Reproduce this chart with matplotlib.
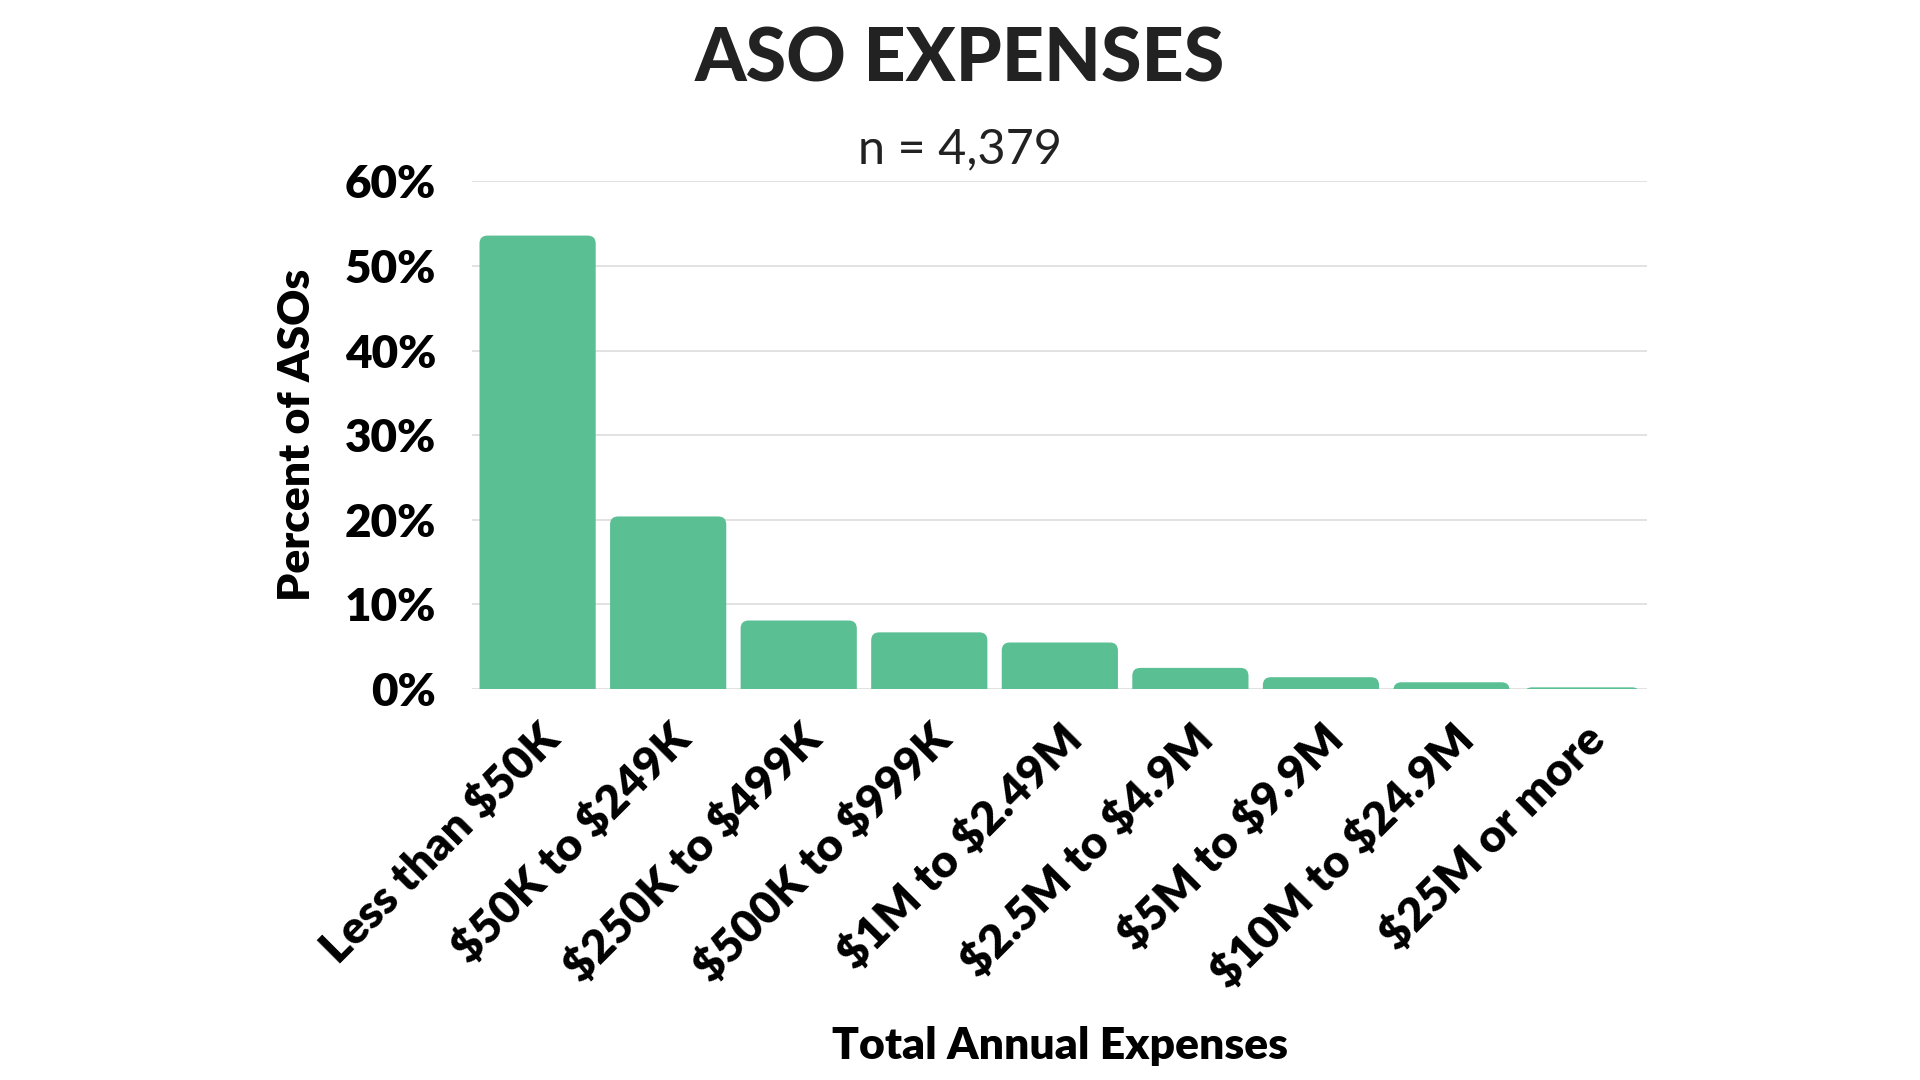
import matplotlib.pyplot as plt
from matplotlib.patches import FancyBboxPatch

categories = ["Less than $50K", "$50K to $249K", "$250K to $499K", "$500K to $999K",
              "$1M to $2.49M", "$2.5M to $4.9M", "$5M to $9.9M", "$10M to $24.9M",
              "$25M or more"]
percents = [53.6, 20.4, 8.1, 6.7, 5.5, 2.5, 1.4, 0.8, 0.2]
yticks = [0, 10, 20, 30, 40, 50, 60]

bar_color = '#5ABF93'
font = 'Lato'
plt.rcParams['text.parse_math'] = False

fig = plt.figure(figsize=(19.2, 10.8), dpi=100)
ax = fig.add_axes([0.246, 0.362, 0.612, 0.470])

x = list(range(len(categories)))
bw = 0.89
ax.set_xlim(-0.5, len(categories) - 0.5)
ax.set_ylim(0, 60)

# rounded top corners, bottom corners pushed under the axis and clipped
px_x = 0.612 * 1920 / len(categories)
px_y = 0.470 * 1080 / 60
r_px = 8
rx = r_px / px_x
aspect = (r_px / px_y) / rx
for xi, v in zip(x, percents):
    p = FancyBboxPatch((xi - bw / 2, -r_px / px_y), bw, v + r_px / px_y,
                       boxstyle="round,pad=0,rounding_size=%f" % rx,
                       mutation_aspect=aspect, facecolor=bar_color,
                       edgecolor='none', zorder=3, clip_on=True)
    ax.add_patch(p)

ax.set_yticks(yticks)
ax.set_yticklabels(["%d%%" % t for t in yticks], fontsize=33, fontweight='heavy',
                   family=font)
ax.set_xticks(x)
ax.set_xticklabels(categories, rotation=45, ha='right', rotation_mode='anchor',
                   fontsize=33, fontweight='heavy', family=font)
ax.tick_params(axis='both', length=0)
ax.tick_params(axis='y', pad=26)
ax.tick_params(axis='x', pad=20)
ax.grid(axis='y', color='#dddddd', linewidth=1.2, zorder=0)
for s in ax.spines.values():
    s.set_visible(False)

ax.set_ylabel("Percent of ASOs", fontsize=32, fontweight='heavy', family=font,
              labelpad=20)
ax.set_xlabel("Total Annual Expenses", fontsize=32, fontweight='heavy', family=font,
              labelpad=22)

fig.text(0.5, 0.944, "ASO EXPENSES", ha='center', va='center', fontsize=53,
         fontweight='black', family=font, color='#222222')
fig.text(0.5, 0.862, "n = 4,379", ha='center', va='center', fontsize=35,
         family=font, color='#222222')

plt.savefig("out.png", dpi=100, facecolor='white')
